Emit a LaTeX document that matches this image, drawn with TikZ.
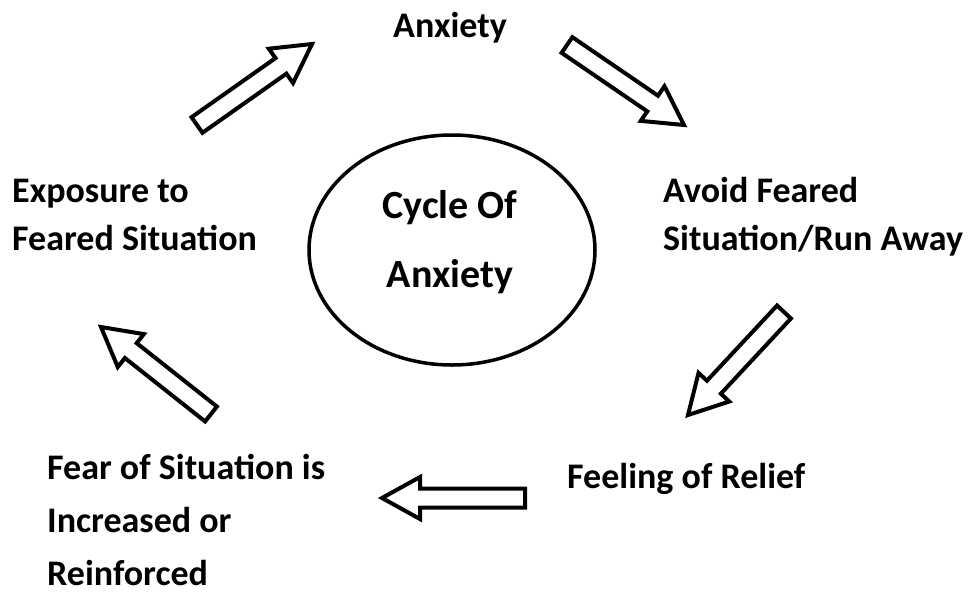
\documentclass[tikz,border=0pt]{standalone}
\usepackage{fontspec}
\setmainfont{Carlito}
\usetikzlibrary{calc,shapes.geometric}

% Hollow block arrow from a tail coordinate to a tip coordinate
\newcommand\blockarrow[3]{% #1 name, #2 tail, #3 tip
  \coordinate (#1-h) at ($(#3)!38pt!(#2)$);
  \draw[hollowarrow]
    ($(#2)!9.5pt!90:(#3)$) -- ($(#1-h)!9.5pt!90:(#3)$) --
    ($(#1-h)!21pt!90:(#3)$) -- (#3) --
    ($(#1-h)!21pt!-90:(#3)$) -- ($(#1-h)!9.5pt!-90:(#3)$) --
    ($(#2)!9.5pt!-90:(#3)$) -- cycle;
}

\begin{document}
\begin{tikzpicture}[x=1pt,y=-1pt,
  label/.style={font=\fontsize{36}{48}\selectfont\bfseries, inner sep=0pt, align=left, anchor=base west},
  cycletext/.style={font=\fontsize{40}{69}\selectfont\bfseries, inner sep=0pt, align=center},
  ring/.style={draw, ellipse, line width=3.5pt, minimum width=286pt, minimum height=230pt, inner sep=0pt},
  hollowarrow/.style={draw, fill=white, line width=4pt, line join=miter}]
  \useasboundingbox[fill=white] (0,0) rectangle (974,592);

  % central ring; multi-line nodes are anchored on their last baseline
  \node[ring] (cycle) at (452,250) {};
  \node[cycletext, anchor=base] (cyclelabel) at (450,287) {Cycle Of\\Anxiety};

  % stages of the cycle
  \node[label, anchor=base] (anx) at (450,37) {Anxiety};
  \node[label] (avoid) at (663,250) {Avoid Feared\\Situation/Run Away};
  \node[label] (relief) at (567,488) {Feeling of Relief};
  \node[label, font=\fontsize{36}{53}\selectfont\bfseries] (fear) at (47,585) {Fear of Situation is\\Increased or\\Reinforced};
  \node[label] (expo) at (12,250) {Exposure to\\Feared Situation};

  % arrow end points
  \coordinate (a1t) at (197,125); \coordinate (a1p) at (312,44);
  \coordinate (a2t) at (567,45);  \coordinate (a2p) at (684,125);
  \coordinate (a3t) at (784,312); \coordinate (a3p) at (688,415);
  \coordinate (a4t) at (525,498); \coordinate (a4p) at (382,498);
  \coordinate (a5t) at (211,414); \coordinate (a5p) at (101,327);

  \blockarrow{a1}{a1t}{a1p}
  \blockarrow{a2}{a2t}{a2p}
  \blockarrow{a3}{a3t}{a3p}
  \blockarrow{a4}{a4t}{a4p}
  \blockarrow{a5}{a5t}{a5p}
\end{tikzpicture}
\end{document}
